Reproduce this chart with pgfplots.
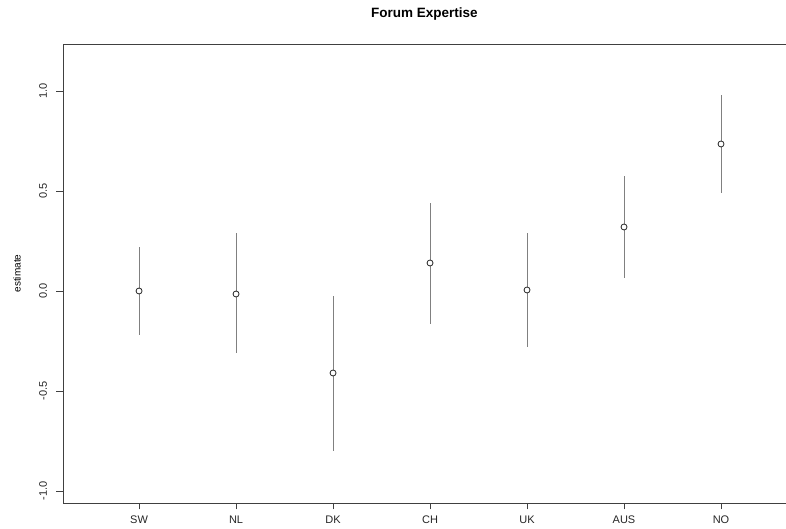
\documentclass[border=0pt]{standalone}
\usepackage{pgfplots}
\pgfplotsset{compat=1.18}
\usepackage{pgfplotstable}
\usepackage{fontspec}
\setmainfont{Liberation Sans}
\pgfplotstableread{
x y ep em
0 0.000 0.220 0.220
1 -0.015 0.305 0.295
2 -0.410 0.385 0.390
3 0.140 0.300 0.305
4 0.005 0.285 0.285
5 0.320 0.255 0.255
6 0.735 0.245 0.245
}\datatable
\begin{document}
\begin{tikzpicture}
\begin{axis}[
  name=ax,
  scale only axis,
  width=723pt, height=459pt,
  xmin=-0.784, xmax=6.67,
  ymin=-1.06, ymax=1.235,
  axis line style={draw=none},
  clip=false,
  xtick={0,1,2,3,4,5,6},
  xticklabels={SW,NL,DK,CH,UK,AUS,NO},
  ytick={-1,-0.5,0,0.5,1},
  yticklabels={-1.0,-0.5,0.0,0.5,1.0},
  tick pos=left,
  tick align=outside,
  major tick length=6.5pt,
  tick style={black!75, line width=0.8pt},
  every tick label/.append style={font=\fontsize{11}{13}\selectfont, text=black!85},
  yticklabel style={xshift=-6pt, rotate=90, anchor=south},
  xticklabel style={anchor=north, yshift=-3pt},
  title={\bfseries Forum Expertise},
  title style={font=\fontsize{13.5}{16}\selectfont, at={(axis description cs:0.5,1)}, anchor=south, yshift=14pt},
  ylabel={estimate},
  ylabel style={font=\fontsize{10}{12}\selectfont, at={(axis description cs:-0.0636,0.5)}, anchor=center, rotate=0},
]
\draw[black!75, line width=0.8pt] (rel axis cs:1,1) -- (rel axis cs:0,1) -- (rel axis cs:0,0) -- (rel axis cs:1,0);
\addplot[draw=none, mark=none, forget plot,
  error bars/.cd, y dir=both, y explicit, error mark=none,
  error bar style={black!50, line width=0.9pt}]
  table[x=x, y=y, y error plus=ep, y error minus=em] {\datatable};
\addplot[only marks, mark=*, mark size=3pt,
  mark options={fill=white, draw=black!85, line width=0.8pt}]
  table[x=x, y=y] {\datatable};
\end{axis}
\pgfresetboundingbox
\path[use as bounding box] ([xshift=-63pt, yshift=-26pt]ax.south west) rectangle ([yshift=44pt]ax.north east);
\end{tikzpicture}
\end{document}
